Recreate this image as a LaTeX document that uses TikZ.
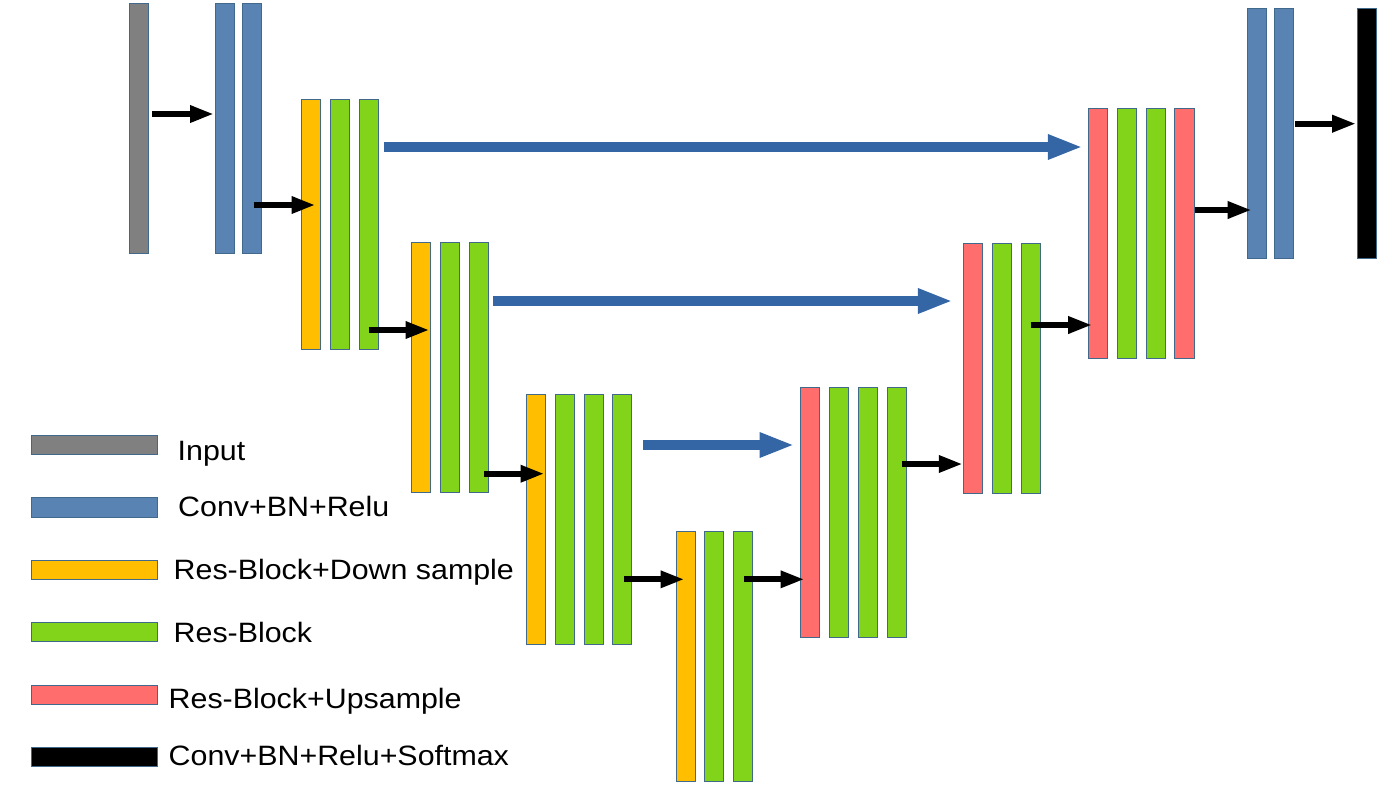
\documentclass[tikz,border=0pt]{standalone}
\usepackage{fontspec}
\newfontfamily\lgfont{Liberation Sans}[FakeStretch=1.085]
\usetikzlibrary{arrows.meta,calc}
\definecolor{cgray}{RGB}{128,128,128}
\definecolor{cblue}{RGB}{89,131,178}
\definecolor{corange}{RGB}{255,191,0}
\definecolor{cgreen}{RGB}{129,212,26}
\definecolor{cred}{RGB}{255,109,109}
\definecolor{cborder}{RGB}{65,105,140}
\definecolor{cskip}{RGB}{52,101,164}
\begin{document}
\begin{tikzpicture}[x=1pt,y=-1pt,
  blk/.style={rectangle,draw=cborder,line width=1pt,minimum width=19pt,minimum height=250pt,inner sep=0pt},
  gray blk/.style={blk,fill=cgray},
  blue blk/.style={blk,fill=cblue},
  down blk/.style={blk,fill=corange},
  res blk/.style={blk,fill=cgreen},
  up blk/.style={blk,fill=cred},
  out blk/.style={blk,fill=black},
  barrow/.style={draw=black,line width=6pt,-{Triangle[length=24pt,width=16pt]}},
  skiparrow/.style={draw=cskip,line width=10pt,-{Triangle[length=35pt,width=23pt]}},
  leg/.style={rectangle,draw=cborder,line width=1pt,minimum width=125.7pt,minimum height=19pt,inner sep=0pt},
  lab/.style={anchor=base west,inner sep=0pt,font=\lgfont\fontsize{28}{34}\selectfont,text=black}]
\useasboundingbox (0,0) rectangle (1392,788);
% blocks
\node[gray blk] (in) at (138.5,128.5) {};
\node[blue blk] (c1) at (225,128.5) {};
\node[blue blk] (c2) at (252,128.5) {};
\node[down blk] (d1) at (310.8,224.3) {};
\node[res blk] (g1a) at (339.8,224.3) {};
\node[res blk] (g1b) at (368.8,224.3) {};
\node[down blk] (d2) at (421,367.8) {};
\node[res blk] (g2a) at (450,367.8) {};
\node[res blk] (g2b) at (478.5,367.8) {};
\node[down blk] (d3) at (536,519.3) {};
\node[res blk] (g3a) at (565,519.3) {};
\node[res blk] (g3b) at (594,519.3) {};
\node[res blk] (g3c) at (622,519.3) {};
\node[down blk] (d4) at (685.7,656.3) {};
\node[res blk] (g4a) at (713.8,656.3) {};
\node[res blk] (g4b) at (742.8,656.3) {};
\node[up blk] (u1) at (810,512.3) {};
\node[res blk] (g5a) at (838.8,512.3) {};
\node[res blk] (g5b) at (867.8,512.3) {};
\node[res blk] (g5c) at (896.8,512.3) {};
\node[up blk] (u2) at (972.8,368.3) {};
\node[res blk] (g6a) at (1002,368.3) {};
\node[res blk] (g6b) at (1030.8,368.3) {};
\node[up blk] (u3) at (1097.8,233.8) {};
\node[res blk] (g7a) at (1127,233.8) {};
\node[res blk] (g7b) at (1156,233.8) {};
\node[up blk,minimum width=20pt] (u4) at (1184.3,233.8) {};
\node[blue blk] (c3) at (1256.5,133.3) {};
\node[blue blk] (c4) at (1284,133.3) {};
\node[out blk] (out) at (1367,133.3) {};
% arrow start points
\coordinate (s1) at ($(in.east)+(3.5,-14.5)$);
\coordinate (s2) at ($(c2.east)+(-8.5,76.5)$);
\coordinate (s3) at ($(g1b.east)+(-10.3,105.7)$);
\coordinate (s4) at ($(g2b.east)+(-4.7,105.9)$);
\coordinate (s5) at ($(g3c.east)+(-8.2,60)$);
\coordinate (s6) at ($(g4b.east)+(-9,-77)$);
\coordinate (s7) at ($(g5c.east)+(-5.3,-48.3)$);
\coordinate (s8) at ($(g6b.east)+(-10.3,-43.3)$);
\coordinate (s9) at ($(u4.east)+(0.4,-23.8)$);
\coordinate (s10) at ($(c4.east)+(0.8,-9.6)$);
\coordinate (k1) at ($(g1b.east)+(4.7,-77.3)$);
\coordinate (k2) at ($(g2b.east)+(4,-66.8)$);
\coordinate (k3) at ($(g3c.east)+(10.8,-74.3)$);
% black arrows
\draw[barrow] (s1) -- ($(c1.west |- s1)+(-1,0)$);
\draw[barrow] (s2) -- ($(d1.west |- s2)+(14.7,0)$);
\draw[barrow] (s3) -- ($(d2.west |- s3)+(18.5,0)$);
\draw[barrow] (s4) -- ($(d3.west |- s4)+(18.5,0)$);
\draw[barrow] (s5) -- ($(d4.west |- s5)+(8.8,0)$);
\draw[barrow] (s6) -- ($(u1.west |- s6)+(4.5,0)$);
\draw[barrow] (s7) -- ($(u2.west |- s7)+(0,0)$);
\draw[barrow] (s8) -- ($(u3.west |- s8)+(4.4,0)$);
\draw[barrow] (s9) -- ($(c3.west |- s9)+(5.2,0)$);
\draw[barrow] (s10) -- ($(out.west |- s10)+(-0.8,0)$);
% skip connections
\draw[skiparrow] (k1) -- ($(u3.west |- k1)+(-5,0)$);
\draw[skiparrow] (k2) -- ($(u2.west |- k2)+(-10,0)$);
\draw[skiparrow] (k3) -- ($(u1.west |- k3)+(-5.5,0)$);
% legend
\node[leg,fill=cgray] (lg1) at (94.8,444.8) {};
\node[leg,fill=cblue,minimum height=20pt] (lg2) at (94.8,507.3) {};
\node[leg,fill=corange] (lg3) at (94.8,569.8) {};
\node[leg,fill=cgreen] (lg4) at (94.8,631.8) {};
\node[leg,fill=cred] (lg5) at (94.8,694.8) {};
\node[leg,fill=black] (lg6) at (94.8,757.2) {};
\node[lab] (t1) at (177.5,460.7) {Input};
\node[lab] (t2) at (178,516.7) {Conv+BN+Relu};
\node[lab] (t3) at (173.5,579.3) {Res-Block+Down sample};
\node[lab] (t4) at (173.5,642.7) {Res-Block};
\node[lab] (t5) at (168.5,708.3) {Res-Block+Upsample};
\node[lab] (t6) at (168.5,765) {Conv+BN+Relu+Softmax};
\end{tikzpicture}
\end{document}
